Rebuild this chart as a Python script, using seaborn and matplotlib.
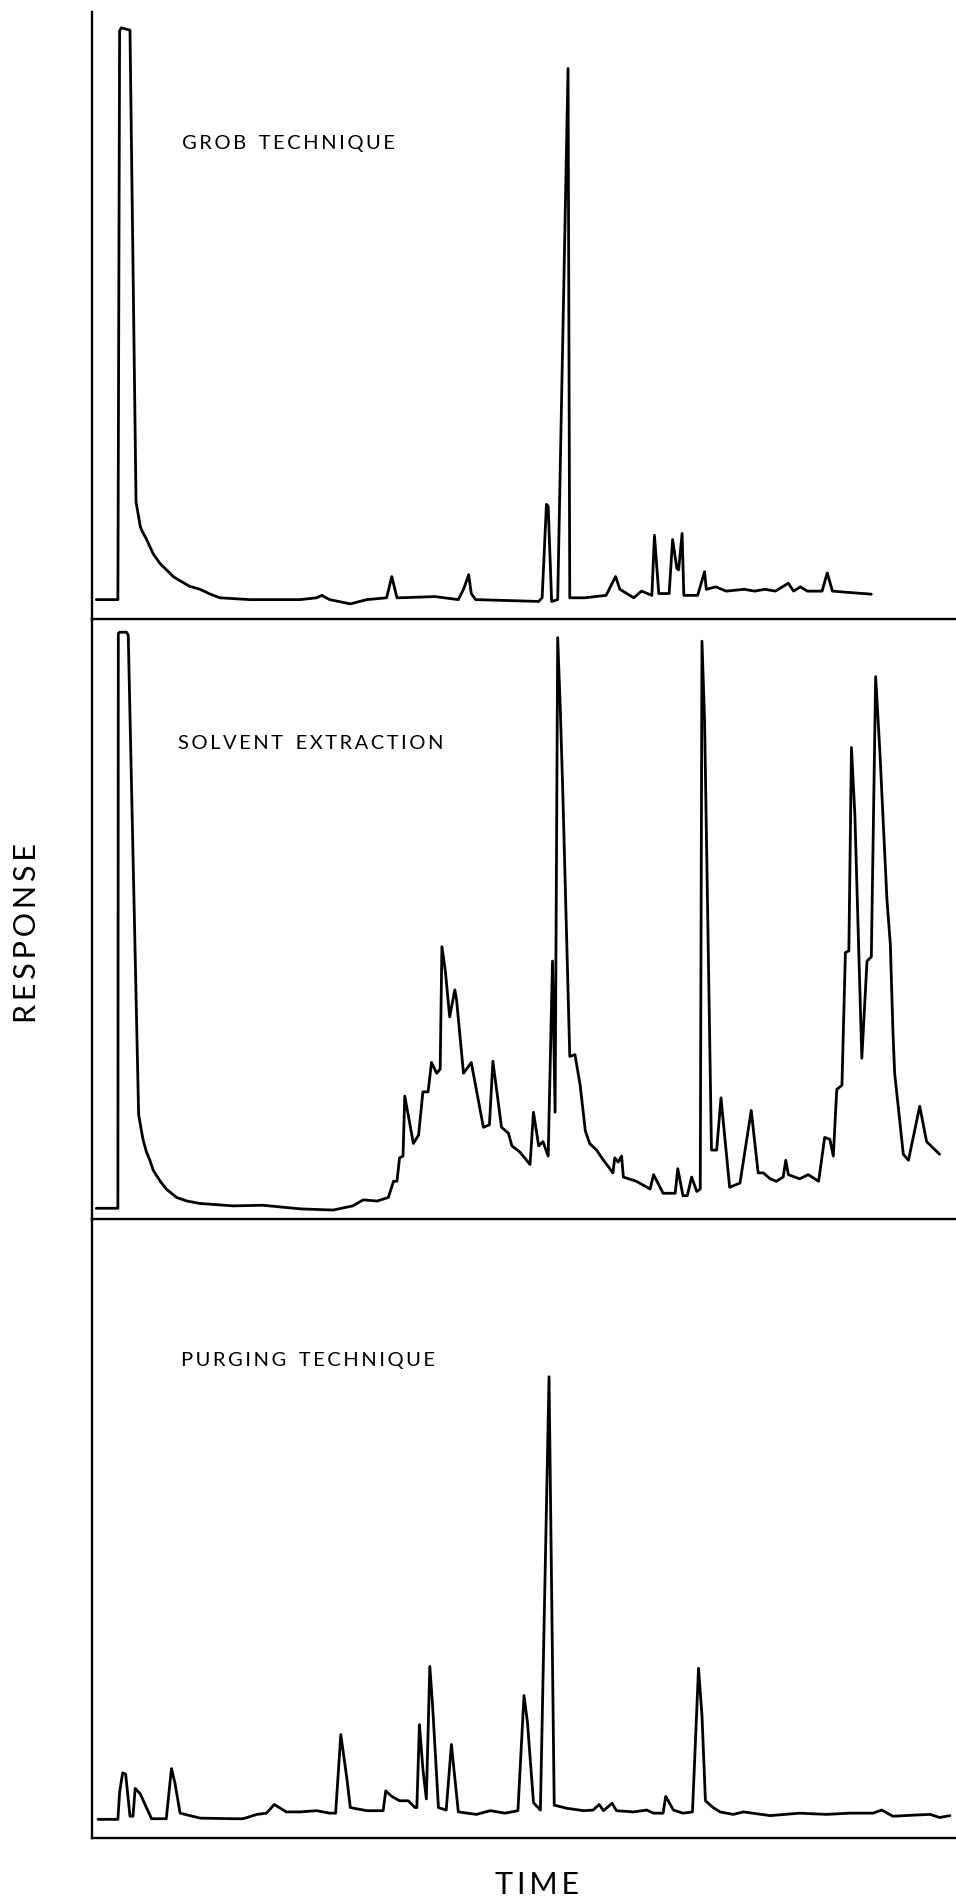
import numpy as np
import pandas as pd
import matplotlib
matplotlib.use("Agg")
import matplotlib.pyplot as plt
import seaborn as sns

# Gas chromatograms of the same water sample, three sample-preparation methods.
# Time and detector response are in relative units (0-100 for each trace).

grob_time = [0.5, 3.0, 3.2, 3.4, 4.4, 5.1, 5.6, 5.9, 6.3, 7.1, 7.9, 8.7, 9.4, 10.2, 11.3,
             12.5, 13.7, 14.8, 18.3,
             24.1, 26.0, 26.6, 27.5, 29.9, 31.8, 34.1, 34.7, 35.3, 35.6, 39.7, 42.4,
             43.0, 43.6, 43.9, 44.4, 51.7, 52.1, 52.6, 52.8, 53.2, 53.9, 55.1, 55.3,
             57.0, 59.5, 60.6, 61.1, 62.7, 63.6, 64.8, 65.1, 65.6, 66.8, 67.2, 67.7,
             67.9, 68.3, 68.5, 70.1, 70.9, 71.1, 72.2, 73.4, 75.5, 76.7, 77.9, 79.1,
             80.6, 81.2, 82.0, 82.8, 84.5, 85.1, 85.7, 87.4, 90.2]
grob_resp = [3.2, 3.2, 96.9, 97.4, 97.0, 19.3, 15.2, 14.2, 13.2, 10.7, 9.1, 8.0, 7.0, 6.3, 5.4,
             4.9, 4.1, 3.5, 3.2,
             3.2, 3.5, 3.9, 3.2, 2.5, 3.2, 3.5, 7.0, 3.5, 3.5, 3.7, 3.2,
             4.9, 7.3, 4.2, 3.2, 2.9, 3.5, 18.9, 18.6, 2.9, 3.2, 90.7, 3.5,
             3.5, 3.9, 7.0, 4.9, 3.5, 4.6, 3.9, 13.8, 4.2, 4.2, 13.1, 8.3,
             8.1, 14.1, 3.9, 3.9, 7.8, 4.9, 5.3, 4.6, 4.9, 4.6, 4.9, 4.6,
             5.9, 4.6, 5.3, 4.6, 4.6, 7.6, 4.6, 4.4, 4.1]

solvent_time = [0.5, 3.0, 3.05, 3.2, 4.0, 4.2, 5.4, 5.9, 6.3, 6.7, 7.1, 7.9, 8.6, 9.8, 11.0,
                12.5, 16.3, 19.8,
                24.1, 27.9, 30.2, 31.4, 33.0, 34.3, 34.9, 35.3, 35.6, 36.0, 36.2, 37.2,
                37.8, 38.3, 38.9, 39.3, 39.9, 40.3, 40.5, 40.9, 41.4, 42.0, 42.2, 43.0,
                43.9, 45.3, 46.0, 46.4, 47.4, 48.2, 48.6, 49.5, 50.7, 51.1, 51.7, 52.2,
                52.8, 53.3, 53.6, 53.9, 54.2, 54.5, 55.3, 55.9, 56.5, 57.1, 57.6, 58.4,
                59.2, 60.3, 60.5, 60.9, 61.3, 61.5, 63.0, 64.6, 65.0, 66.1, 67.5, 67.8,
                68.4, 68.9, 69.4, 70.0, 70.4, 70.6, 70.9, 71.7, 72.3, 72.8, 73.8, 75.0,
                76.3, 77.1, 77.7, 78.5, 79.2, 80.0, 80.3, 80.6, 81.9, 82.9, 84.1, 84.8,
                85.4, 85.8, 86.2, 86.8, 87.2, 87.6, 87.9, 88.3, 89.1, 89.7, 90.2, 90.7,
                91.2, 92.0, 92.4, 92.7, 92.9, 93.9, 94.5, 95.8, 96.6, 98.1]
solvent_resp = [1.8, 1.8, 97.6, 97.8, 97.8, 97.3, 17.4, 13.3, 11.2, 9.8, 8.1, 6.3, 5.0, 3.6, 3.0,
                2.6, 2.2, 2.3,
                1.7, 1.5, 2.2, 3.2, 3.0, 3.6, 6.3, 6.3, 10.2, 10.5, 20.5, 12.6,
                14.0, 21.2, 21.2, 26.1, 24.3, 25.0, 45.4, 41.3, 33.7, 38.2, 36.5, 24.3,
                26.1, 15.3, 15.7, 26.3, 15.3, 14.3, 12.2, 11.2, 9.1, 17.8, 12.2, 12.9,
                10.5, 43.0, 17.8, 96.9, 85.2, 70.7, 27.1, 27.4, 22.3, 14.7, 12.6, 11.5,
                9.8, 7.7, 10.2, 9.5, 10.5, 7.0, 6.3, 5.0, 7.4, 4.3, 4.3, 8.4,
                3.9, 3.9, 7.0, 4.6, 5.0, 96.3, 83.2, 11.5, 11.5, 20.2, 5.3, 6.0,
                18.1, 7.7, 7.7, 6.7, 6.3, 7.0, 9.8, 7.4, 6.7, 7.4, 6.3, 13.6,
                13.3, 10.5, 21.6, 22.3, 44.4, 44.7, 78.6, 67.2, 26.8, 43.0, 43.7, 90.4,
                77.6, 53.4, 45.8, 31.3, 24.3, 10.8, 9.8, 18.8, 12.9, 10.8]

purge_time = [0.7, 3.0, 3.2, 3.55, 3.9, 4.4, 4.75, 5.0, 5.6, 6.3, 6.9, 8.6, 9.2, 9.6,
              10.2, 12.5, 16.4, 17.5, 19.1, 20.2, 21.1, 22.5, 24.1, 26.0, 27.5, 28.2,
              28.8, 29.5, 29.9, 31.8, 33.3, 33.7, 34.0, 34.7, 35.6, 36.6, 37.4, 37.6,
              37.9, 38.3, 38.7, 39.1, 39.4, 40.1, 41.0, 41.6, 42.4, 44.5, 46.1, 47.8,
              49.3, 50.0, 50.4, 51.1, 51.9, 52.9, 53.5, 54.9, 56.9, 58.0, 58.7, 59.2,
              60.2, 60.7, 62.7, 64.2, 65.0, 66.1, 66.4, 67.3, 68.4, 69.5, 70.2, 70.6,
              71.0, 71.9, 72.7, 74.2, 75.4, 78.5, 81.9, 85.0, 87.7, 90.4, 91.4, 92.7,
              95.4, 97.0, 98.1, 99.3]
purge_resp = [3.0, 3.0, 7.4, 10.5, 10.3, 3.5, 3.5, 8.0, 7.1, 4.9, 3.1, 3.1, 11.2, 8.9,
              4.0, 3.2, 3.1, 3.1, 3.8, 4.0, 5.4, 4.2, 4.2, 4.4, 4.0, 4.0,
              16.7, 9.6, 4.9, 4.4, 4.4, 4.4, 7.6, 6.7, 6.0, 6.0, 4.9, 4.9,
              18.3, 11.1, 6.3, 27.7, 21.9, 4.9, 4.5, 15.1, 4.2, 3.8, 4.4, 4.0,
              4.4, 23.0, 18.7, 5.7, 4.5, 74.5, 5.3, 4.8, 4.4, 4.5, 5.4, 4.4,
              5.6, 4.4, 4.2, 4.5, 4.0, 4.0, 6.7, 4.5, 4.0, 4.2, 27.4, 19.8,
              6.0, 4.9, 4.2, 3.8, 4.2, 3.6, 4.0, 3.8, 4.0, 4.0, 4.5, 3.5,
              3.7, 3.8, 3.3, 3.6]

panel_titles = ["GROB TECHNIQUE", "SOLVENT EXTRACTION", "PURGING TECHNIQUE"]
traces = [(grob_time, grob_resp), (solvent_time, solvent_resp), (purge_time, purge_resp)]


def spaced(text):
    """Letter-spaced caption: thin space between letters, wide gap between words."""
    words = text.split(" ")
    return "\u2009\u2009 \u2009".join("\u2009".join(w) for w in words)


sns.set_style("white")
plt.rcParams["font.family"] = ["Lato", "DejaVu Sans"]

fig = plt.figure(figsize=(9.56, 19.03), dpi=100)
fig.patch.set_facecolor("white")

# panel boxes in figure fractions: (bottom, height)
boxes = [(0.6747, 0.3190), (0.3594, 0.3153), (0.0342, 0.3253)]
title_pos = [(0.104, 0.784), (0.0995, 0.792), (0.103, 0.771)]
left, width = 0.0962, 0.9038

for (b, h), (t, r), title, (tx, ty) in zip(boxes, traces, panel_titles, title_pos):
    ax = fig.add_axes([left, b, width, h])
    df = pd.DataFrame({"time": t, "response": r})
    sns.lineplot(data=df, x="time", y="response", sort=False, estimator=None,
                 color="black", linewidth=2.0, ax=ax)
    ax.set_xlim(0, 100)
    ax.set_ylim(0, 100)
    ax.set_xticks([])
    ax.set_yticks([])
    ax.set_xlabel("")
    ax.set_ylabel("")
    ax.set_facecolor("none")
    for side in ("top", "right"):
        ax.spines[side].set_visible(False)
    for side in ("left", "bottom"):
        ax.spines[side].set_visible(True)
        ax.spines[side].set_color("black")
        ax.spines[side].set_linewidth(1.7)
    ax.text(tx, ty, spaced(title), transform=ax.transAxes, ha="left", va="center",
            fontsize=14.5, color="black")

fig.text(0.0282, 0.5097, spaced("RESPONSE"), rotation=90, ha="center", va="center",
         fontsize=22, color="black")
fig.text(0.5617, 0.0095, spaced("TIME"), ha="center", va="center",
         fontsize=22, color="black")

fig.savefig("out.png", dpi=100, facecolor="white")
